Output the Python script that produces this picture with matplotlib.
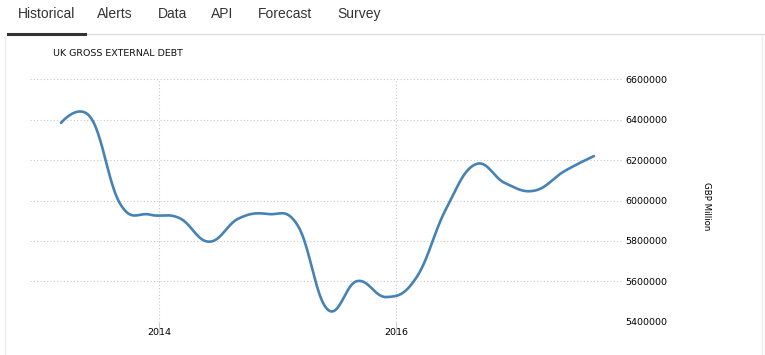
import numpy as np
import matplotlib
matplotlib.use('Agg')
import matplotlib.pyplot as plt

# UK gross external debt, quarterly, GBP million
quarters = ['2013Q1', '2013Q2', '2013Q3', '2013Q4', '2014Q1', '2014Q2', '2014Q3', '2014Q4',
            '2015Q1', '2015Q2', '2015Q3', '2015Q4', '2016Q1', '2016Q2', '2016Q3', '2016Q4',
            '2017Q1', '2017Q2', '2017Q3']
debt = [6384000, 6411000, 5983000, 5930000, 5913000, 5796000, 5911000, 5933000,
        5875000, 5461000, 5601000, 5522000, 5618000, 5957000, 6179000, 6086000,
        6049000, 6145000, 6220000]
year_ticks = [2014, 2016]
y_ticks = [5400000, 5600000, 5800000, 6000000, 6200000, 6400000, 6600000]
tabs = ['Historical', 'Alerts', 'Data', 'API', 'Forecast', 'Survey']
tab_x = [18, 97, 158, 211, 258, 337]

W, H = 765, 355


def smooth_path(x, y, n=40, smoothing=1.5):
    # bezier smoothing the way web chart libraries draw a "spline" series
    x = np.asarray(x, float)
    y = np.asarray(y, float)
    m = len(x)
    d = smoothing + 1
    lc = [(x[i], y[i]) for i in range(m)]
    rc = [(x[i], y[i]) for i in range(m)]
    for i in range(1, m - 1):
        lcx = (smoothing * x[i] + x[i - 1]) / d
        lcy = (smoothing * y[i] + y[i - 1]) / d
        rcx = (smoothing * x[i] + x[i + 1]) / d
        rcy = (smoothing * y[i] + y[i + 1]) / d
        corr = (rcy - lcy) * (rcx - x[i]) / (rcx - lcx) + y[i] - rcy
        lc[i] = (lcx, lcy + corr)
        rc[i] = (rcx, rcy + corr)
    t = np.linspace(0, 1, n)[:, None]
    pts = []
    for i in range(m - 1):
        p0 = np.array([x[i], y[i]])
        p1 = np.array(rc[i])
        p2 = np.array(lc[i + 1])
        p3 = np.array([x[i + 1], y[i + 1]])
        b = ((1 - t) ** 3) * p0 + 3 * ((1 - t) ** 2) * t * p1 + 3 * (1 - t) * t ** 2 * p2 + t ** 3 * p3
        pts.append(b if i == 0 else b[1:])
    pts = np.vstack(pts)
    return pts[:, 0], pts[:, 1]


# decimal year of each observation (chart places 2014 a third of a quarter after 2013Q4)
x = 2013.17 + 0.25 * np.arange(len(quarters))
sx, sy = smooth_path(x, debt)

fig = plt.figure(figsize=(W / 100, H / 100), dpi=100)
fig.patch.set_facecolor('white')

# page tabs
for name, tx in zip(tabs, tab_x):
    fig.text(tx / W, 1 - 14 / H, name, fontsize=10, family='Liberation Sans',
             color='#333333', va='center', ha='left')
fig.add_artist(plt.Line2D([85 / W, 1], [1 - 34 / H] * 2, color='#dddddd', lw=1))
fig.add_artist(plt.Line2D([8 / W, 85 / W], [1 - 33.5 / H] * 2, color='#333333', lw=2.2))
# light frame of the chart panel
fig.add_artist(plt.Line2D([5 / W, 5 / W], [0, 1 - 36 / H], color='#eeeeee', lw=1))
fig.add_artist(plt.Line2D([762 / W, 762 / W], [0, 1 - 36 / H], color='#eeeeee', lw=1))

fig.text(53 / W, 1 - 54 / H, 'UK GROSS EXTERNAL DEBT', fontsize=6.8, color='#111111',
         va='center', ha='left')

ax = fig.add_axes([30 / W, 33.3 / H, 592 / W, 242.4 / H])
ax.plot(sx, sy, color='#4682b4', lw=1.9, solid_capstyle='round')

ax.set_xlim(2012.908, 2017.907)
ax.set_ylim(5400000, 6600000)
ax.set_xticks(year_ticks)
ax.set_xticklabels([str(t) for t in year_ticks])
ax.set_yticks(y_ticks)
ax.set_yticklabels([str(t) for t in y_ticks])
ax.yaxis.tick_right()
ax.tick_params(axis='y', length=0, pad=2.5, labelsize=6.8, labelcolor='#000000')
ax.tick_params(axis='x', length=9.4, color='#cccccc', width=0.8, pad=-5,
               labelsize=6.8, labelcolor='#000000')
ax.grid(True, color='#c8c8c8', linestyle=(0, (1, 2)), linewidth=0.8)
for s in ax.spines.values():
    s.set_visible(False)

fig.text(707 / W, 1 - 206.5 / H, 'GBP Million', fontsize=6.2, rotation=-90,
         color='#000000', va='center', ha='center')

fig.savefig('out.png', dpi=100)
